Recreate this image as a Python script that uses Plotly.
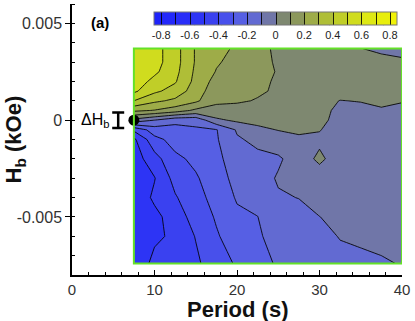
import plotly.graph_objects as go

# contour grid: period (s) along x, bias field Hb (kOe) along y (top to bottom)
period = [7.5, 10, 12.5, 15, 17.5, 20, 22.5, 25, 27.5, 30, 32.5, 35, 37.5, 40]
hb = [0.0037, 0.003, 0.0025, 0.002, 0.0015, 0.001, 0.0005, 0.0,
      -0.0005, -0.001, -0.002, -0.003, -0.004, -0.005, -0.006, -0.0074]

m_rows = [
    [0.58, 0.54, 0.44, 0.29, 0.24, 0.18, 0.116, 0.09, 0.07, 0.05, 0.025, 0.002, -0.02, -0.04],
    [0.58, 0.54, 0.44, 0.29, 0.21, 0.17, 0.125, 0.09, 0.07, 0.06, 0.05, 0.04, 0.03, 0.02],
    [0.58, 0.52, 0.43, 0.28, 0.195, 0.16, 0.125, 0.095, 0.08, 0.07, 0.06, 0.05, 0.04, 0.03],
    [0.56, 0.47, 0.41, 0.27, 0.165, 0.15, 0.118, 0.09, 0.08, 0.07, 0.06, 0.05, 0.05, 0.05],
    [0.52, 0.42, 0.36, 0.25, 0.14, 0.13, 0.11, 0.09, 0.08, 0.06, 0.05, 0.05, 0.05, 0.05],
    [0.40, 0.32, 0.28, 0.22, 0.115, 0.11, 0.095, 0.07, 0.05, 0.04, -0.003, 0.005, 0.02, 0.005],
    [0.22, 0.195, 0.15, 0.08, 0.075, 0.07, 0.06, 0.05, 0.04, 0.04, -0.03, -0.03, -0.01, -0.02],
    [-0.03, -0.1, -0.17, -0.17, -0.02, 0.02, 0.026, 0.04, 0.05, 0.03, -0.04, -0.04, -0.03, -0.03],
    [-0.38, -0.25, -0.235, -0.213, -0.205, -0.09, -0.02, 0.003, 0.01, 0.005, -0.05, -0.045, -0.04, -0.035],
    [-0.52, -0.33, -0.265, -0.234, -0.21, -0.11, -0.08, -0.04, -0.01, -0.02, -0.05, -0.05, -0.045, -0.04],
    [-0.55, -0.44, -0.32, -0.28, -0.23, -0.138, -0.12, -0.115, -0.05, 0.02, -0.05, -0.05, -0.05, -0.04],
    [-0.57, -0.505, -0.365, -0.31, -0.25, -0.164, -0.145, -0.09, -0.07, -0.05, -0.06, -0.055, -0.05, -0.045],
    [-0.58, -0.48, -0.41, -0.33, -0.27, -0.19, -0.175, -0.11, -0.098, -0.07, -0.07, -0.06, -0.055, -0.05],
    [-0.58, -0.53, -0.45, -0.36, -0.29, -0.22, -0.201, -0.15, -0.13, -0.101, -0.08, -0.07, -0.06, -0.055],
    [-0.58, -0.52, -0.48, -0.395, -0.31, -0.25, -0.21, -0.17, -0.15, -0.13, -0.095, -0.085, -0.075, -0.07],
    [-0.58, -0.47, -0.46, -0.42, -0.34, -0.29, -0.23, -0.19, -0.17, -0.16, -0.13, -0.12, -0.11, -0.095],
]

# one colour per 0.1 band, -0.9 .. 0.9
band_colors = [
    "rgb(30,35,250)", "rgb(35,40,250)", "rgb(40,45,248)", "rgb(45,52,245)",
    "rgb(58,65,240)", "rgb(72,80,235)", "rgb(86,95,228)", "rgb(98,106,210)",
    "rgb(112,118,168)", "rgb(126,136,112)", "rgb(140,152,92)", "rgb(158,172,72)",
    "rgb(175,190,55)", "rgb(192,206,40)", "rgb(208,220,30)", "rgb(222,232,20)",
    "rgb(232,238,12)", "rgb(240,242,8)",
]

cb_vals = [-0.8, -0.6, -0.4, -0.2, 0, 0.2, 0.4, 0.6, 0.8]
cb_text = ["-0.8", "-0.6", "-0.4", "-0.2", "0", "0.2", "0.4", "0.6", "0.8"]
cb_lines = [-0.6, -0.4, -0.2, 0, 0.2, 0.4, 0.6, 0.8]

x_ticks = [0, 10, 20, 30, 40]
y_ticks = [-0.005, 0, 0.005]
y_text = ["-0.005", "0", "0.005"]

dot_x = [7.5]
dot_y = [0]
dhb_x = [5.6]
dhb_y = [0]
dhb_half = [0.0004]

font = "Liberation Sans, Arial, sans-serif"
n = len(band_colors)
cscale = [[k / (n - 1), c] for k, c in enumerate(band_colors)]

# colour bar placement (paper fractions of the plot area)
cb_x, cb_len, cb_y, cb_thick = 0.617, 0.736, 0.97, 13
plot_h = 321 - 4 - 46

fig = go.Figure()
fig.add_trace(go.Contour(
    x=period, y=hb[::-1], z=m_rows[::-1],
    autocontour=False,
    contours=dict(start=-0.8, end=0.8, size=0.1, coloring="fill"),
    colorscale=cscale,
    line=dict(color="rgba(0,0,0,0.85)", width=1, smoothing=0),
    colorbar=dict(orientation="h", x=cb_x, xanchor="center", y=cb_y, yanchor="top",
                  len=cb_len, lenmode="fraction", thickness=cb_thick, xpad=0, ypad=0,
                  outlinewidth=1, outlinecolor="#777",
                  tickvals=cb_vals, ticktext=cb_text, ticks="",
                  tickfont=dict(family=font, size=11, color="#222")),
))

fig.add_trace(go.Scatter(
    x=dhb_x, y=dhb_y, mode="markers",
    marker=dict(size=1, color="rgba(0,0,0,0)"),
    error_y=dict(type="data", array=dhb_half, color="black", thickness=2.5, width=6),
    showlegend=False, hoverinfo="skip", cliponaxis=False,
))
fig.add_trace(go.Scatter(
    x=dot_x, y=dot_y, mode="markers",
    marker=dict(size=11, color="black"),
    showlegend=False, cliponaxis=False,
))

# green frame round the measured area
fig.add_shape(type="rect", x0=period[0], x1=period[-1], y0=hb[-1], y1=hb[0],
              line=dict(color="rgb(100,225,40)", width=2), layer="above")

# contour level marks inside the colour bar
for v in cb_lines:
    px = cb_x + v / 1.8 * cb_len
    fig.add_shape(type="line", xref="paper", yref="paper", x0=px, x1=px,
                  y0=cb_y - cb_thick / plot_h, y1=cb_y,
                  line=dict(color="#222", width=1), layer="above")

fig.add_annotation(x=2.8, y=0, text="ΔH<sub>b</sub>", showarrow=False,
                   font=dict(family=font, size=16, color="black"))
fig.add_annotation(x=3.4, y=0.00507, text="<b>(a)</b>", showarrow=False,
                   font=dict(family=font, size=15, color="black"))
fig.add_annotation(xref="paper", yref="paper", x=0.5, y=-0.127, yanchor="middle",
                   xanchor="center", text="<b>Period (s)</b>",
                   showarrow=False, font=dict(family=font, size=22, color="#111"))
fig.add_annotation(xref="paper", yref="paper", x=-0.173, y=0.5, textangle=-90,
                   xanchor="center", yanchor="middle",
                   text="<b>H<sub>b</sub> (kOe)</b>", showarrow=False,
                   font=dict(family=font, size=22, color="#111"))

fig.update_layout(
    width=415, height=321,
    margin=dict(l=72, r=13, t=4, b=46, autoexpand=False),
    paper_bgcolor="white", plot_bgcolor="white",
    showlegend=False,
    font=dict(family=font),
    xaxis=dict(range=[0, 40], tickvals=x_ticks, showline=True, linecolor="black", linewidth=1.5,
               ticks="inside", ticklen=5, tickwidth=1, tickcolor="black",
               minor=dict(dtick=2, ticks="inside", ticklen=3, tickcolor="black"),
               showgrid=False, zeroline=False,
               tickfont=dict(family=font, size=15, color="#333")),
    yaxis=dict(range=[-0.008, 0.006], tickvals=y_ticks, ticktext=y_text,
               showline=True, linecolor="black", linewidth=1.5,
               ticks="outside", ticklen=5, tickwidth=1, tickcolor="black",
               minor=dict(dtick=0.001, ticks="inside", ticklen=3, tickcolor="black"),
               showgrid=False, zeroline=False,
               tickfont=dict(family=font, size=16, color="#333")),
)

# the page's default body margin would shift the figure by 8px
fig.write_html("out.html", config={"displayModeBar": False},
               post_script="document.body.style.margin='0';")
